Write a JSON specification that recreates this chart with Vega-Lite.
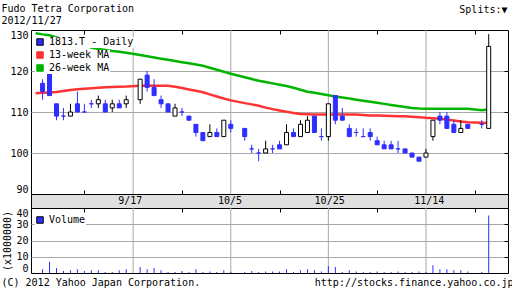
{
 "$schema": "https://vega.github.io/schema/vega-lite/v6.json",
 "padding": {"left": 0, "top": 2, "right": 0, "bottom": 0},
 "background": "white",
 "config": {
  "view": {"stroke": "black", "strokeWidth": 1},
  "axis": {"labelFont": "DejaVu Sans Mono", "titleFont": "DejaVu Sans Mono", "labelFontSize": 10, "titleFontSize": 10, "titleFontWeight": "normal", "labelColor": "black", "titleColor": "black", "gridColor": "#a8a8a8", "gridOpacity": 1, "domain": false},
  "legend": {"labelFont": "DejaVu Sans Mono", "labelFontSize": 10, "labelColor": "black"}
 },
 "datasets": {
  "px": [
   {"i": -1, "d": "8/28", "m13": 114.55, "m26": 129.2},
   {"i": 0, "d": "8/29", "o": 117, "h": 118, "l": 113, "c": 115, "v": 2.3, "m13": 114.68, "m26": 128.93},
   {"i": 1, "d": "8/30", "o": 120, "h": 122, "l": 114, "c": 114, "v": 6.9, "m13": 114.77, "m26": 128.7},
   {"i": 2, "d": "8/31", "o": 112, "h": 112, "l": 108, "c": 109, "v": 3.1, "m13": 114.87, "m26": 128.2},
   {"i": 3, "d": "9/3", "o": 109, "h": 111, "l": 108, "c": 109, "v": 1.25, "m13": 115.12, "m26": 127.7},
   {"i": 4, "d": "9/4", "o": 109, "h": 112, "l": 109, "c": 110, "v": 1.7, "m13": 115.36, "m26": 127.2},
   {"i": 5, "d": "9/5", "o": 112, "h": 115, "l": 110, "c": 110, "v": 2.3, "m13": 115.52, "m26": 126.7},
   {"i": 6, "d": "9/6", "o": 110, "h": 112, "l": 110, "c": 110, "v": 1.25, "m13": 115.66, "m26": 126.2},
   {"i": 7, "d": "9/7", "o": 112, "h": 113, "l": 111, "c": 112, "v": 1.7, "m13": 115.8, "m26": 125.75},
   {"i": 8, "d": "9/10", "o": 112, "h": 114, "l": 111, "c": 113, "v": 1.7, "m13": 115.93, "m26": 125.38},
   {"i": 9, "d": "9/11", "o": 112, "h": 113, "l": 110, "c": 110, "v": 0.6, "m13": 116.06, "m26": 125.15},
   {"i": 10, "d": "9/12", "o": 111, "h": 113, "l": 110, "c": 112, "v": 0.6, "m13": 116.1, "m26": 124.9},
   {"i": 11, "d": "9/13", "o": 112, "h": 113, "l": 111, "c": 111, "v": 1.7, "m13": 116.15, "m26": 124.7},
   {"i": 12, "d": "9/14", "o": 112, "h": 114, "l": 111, "c": 113, "v": 2.3, "m13": 116.19, "m26": 124.45},
   {"i": 14, "d": "9/18", "o": 113, "h": 118, "l": 112, "c": 118, "v": 3.75, "m13": 116.39, "m26": 123.9},
   {"i": 15, "d": "9/19", "o": 119, "h": 120, "l": 115, "c": 116, "v": 2.3, "m13": 116.45, "m26": 123.6},
   {"i": 16, "d": "9/20", "o": 116, "h": 118, "l": 114, "c": 114, "v": 3.1, "m13": 116.43, "m26": 123.3},
   {"i": 17, "d": "9/21", "o": 113, "h": 114, "l": 111, "c": 112, "v": 1.7, "m13": 116.41, "m26": 123.0},
   {"i": 18, "d": "9/24", "o": 112, "h": 112, "l": 110, "c": 110, "v": 0.6, "m13": 116.39, "m26": 122.73},
   {"i": 19, "d": "9/25", "o": 109, "h": 112, "l": 109, "c": 111, "v": 0.6, "m13": 116.17, "m26": 122.45},
   {"i": 20, "d": "9/26", "o": 110, "h": 111, "l": 109, "c": 110, "v": 1.25, "m13": 115.85, "m26": 122.15},
   {"i": 21, "d": "9/27", "o": 109, "h": 109, "l": 108, "c": 108, "v": 0.6, "m13": 115.51, "m26": 121.87},
   {"i": 22, "d": "9/28", "o": 107, "h": 107, "l": 104, "c": 105, "v": 2.3, "m13": 115.16, "m26": 121.58},
   {"i": 23, "d": "10/1", "o": 105, "h": 105, "l": 103, "c": 103, "v": 0.6, "m13": 114.8, "m26": 121.28},
   {"i": 24, "d": "10/2", "o": 104, "h": 107, "l": 104, "c": 105, "v": 1, "m13": 114.29, "m26": 120.8},
   {"i": 25, "d": "10/3", "o": 105, "h": 106, "l": 104, "c": 104, "v": 0.6, "m13": 113.77, "m26": 120.3},
   {"i": 26, "d": "10/4", "o": 104, "h": 108, "l": 104, "c": 108, "v": 1.7, "m13": 113.28, "m26": 119.8},
   {"i": 27, "d": "10/5", "o": 107, "h": 108, "l": 105, "c": 106, "v": 0.8, "m13": 112.84, "m26": 119.33},
   {"i": 29, "d": "10/9", "o": 106, "h": 106, "l": 103, "c": 104, "v": 0.6, "m13": 112.16, "m26": 118.46},
   {"i": 30, "d": "10/10", "o": 101, "h": 102, "l": 100, "c": 101, "v": 1.25, "m13": 111.86, "m26": 118.03},
   {"i": 31, "d": "10/11", "o": 100, "h": 101, "l": 98, "c": 100, "v": 0.6, "m13": 111.53, "m26": 117.62},
   {"i": 32, "d": "10/12", "o": 100, "h": 103, "l": 100, "c": 101, "v": 1, "m13": 111.07, "m26": 117.3},
   {"i": 33, "d": "10/15", "o": 101, "h": 102, "l": 100, "c": 101, "v": 1, "m13": 110.7, "m26": 116.98},
   {"i": 34, "d": "10/16", "o": 102, "h": 103, "l": 101, "c": 101, "v": 1, "m13": 110.37, "m26": 116.67},
   {"i": 35, "d": "10/17", "o": 102, "h": 107, "l": 102, "c": 105, "v": 2.3, "m13": 110.05, "m26": 116.36},
   {"i": 36, "d": "10/18", "o": 105, "h": 106, "l": 104, "c": 104, "v": 0.6, "m13": 109.76, "m26": 115.93},
   {"i": 37, "d": "10/19", "o": 104, "h": 108, "l": 104, "c": 107, "v": 1.7, "m13": 109.52, "m26": 115.43},
   {"i": 38, "d": "10/22", "o": 105, "h": 109, "l": 105, "c": 108, "v": 2.3, "m13": 109.47, "m26": 114.96},
   {"i": 39, "d": "10/23", "o": 109, "h": 109, "l": 105, "c": 105, "v": 1.7, "m13": 109.42, "m26": 114.67},
   {"i": 40, "d": "10/24", "o": 104, "h": 106, "l": 103, "c": 104, "v": 1, "m13": 109.38, "m26": 114.38},
   {"i": 41, "d": "10/25", "o": 104, "h": 112, "l": 103, "c": 112, "v": 4.2, "m13": 109.37, "m26": 114.1},
   {"i": 42, "d": "10/26", "o": 114, "h": 114, "l": 107, "c": 108, "v": 3.75, "m13": 109.37, "m26": 113.8},
   {"i": 43, "d": "10/29", "o": 109, "h": 111, "l": 108, "c": 108, "v": 0.6, "m13": 109.37, "m26": 113.54},
   {"i": 44, "d": "10/30", "o": 106, "h": 107, "l": 104, "c": 104, "v": 1.7, "m13": 109.37, "m26": 113.28},
   {"i": 45, "d": "10/31", "o": 105, "h": 106, "l": 104, "c": 105, "v": 1, "m13": 109.36, "m26": 113.01},
   {"i": 46, "d": "11/1", "o": 104, "h": 106, "l": 104, "c": 104, "v": 0.6, "m13": 109.25, "m26": 112.75},
   {"i": 47, "d": "11/2", "o": 105, "h": 106, "l": 103, "c": 104, "v": 0.6, "m13": 109.17, "m26": 112.48},
   {"i": 48, "d": "11/5", "o": 103, "h": 104, "l": 102, "c": 102, "v": 1, "m13": 109.12, "m26": 112.23},
   {"i": 49, "d": "11/6", "o": 102, "h": 103, "l": 101, "c": 101, "v": 0.6, "m13": 109.07, "m26": 111.98},
   {"i": 50, "d": "11/7", "o": 102, "h": 103, "l": 101, "c": 101, "v": 0.6, "m13": 109.03, "m26": 111.73},
   {"i": 51, "d": "11/8", "o": 101, "h": 103, "l": 100, "c": 101, "v": 1, "m13": 108.99, "m26": 111.48},
   {"i": 52, "d": "11/9", "o": 101, "h": 101, "l": 100, "c": 100, "v": 0.6, "m13": 108.94, "m26": 111.24},
   {"i": 53, "d": "11/12", "o": 100, "h": 100, "l": 99, "c": 99, "v": 0.6, "m13": 108.85, "m26": 110.99},
   {"i": 54, "d": "11/13", "o": 99, "h": 99, "l": 98, "c": 98, "v": 1, "m13": 108.74, "m26": 110.85},
   {"i": 55, "d": "11/14", "o": 99, "h": 101, "l": 99, "c": 100, "v": 0.6, "m13": 108.6, "m26": 110.82},
   {"i": 56, "d": "11/15", "o": 104, "h": 108, "l": 103, "c": 108, "v": 4.8, "m13": 108.5, "m26": 110.82},
   {"i": 57, "d": "11/16", "o": 109, "h": 110, "l": 107, "c": 108, "v": 2.3, "m13": 108.35, "m26": 110.82},
   {"i": 58, "d": "11/19", "o": 109, "h": 110, "l": 106, "c": 106, "v": 2.3, "m13": 108.15, "m26": 110.82},
   {"i": 59, "d": "11/20", "o": 107, "h": 108, "l": 105, "c": 105, "v": 1.7, "m13": 107.95, "m26": 110.82},
   {"i": 60, "d": "11/21", "o": 105, "h": 108, "l": 105, "c": 106, "v": 1.7, "m13": 107.7, "m26": 110.82},
   {"i": 61, "d": "11/22", "o": 107, "h": 107, "l": 106, "c": 106, "v": 1, "m13": 107.5, "m26": 110.8},
   {"i": 63, "d": "11/26", "o": 107, "h": 108, "l": 106, "c": 107, "v": 0.6, "m13": 107.35, "m26": 110.41},
   {"i": 64, "d": "11/27", "o": 106, "h": 129, "l": 106, "c": 126, "v": 35.4, "m13": 107.3, "m26": 110.6}
  ],
  "grid": [
   {"i": 13, "label": "9/17"},
   {"i": 27, "label": "10/5"},
   {"i": 41, "label": "10/25"},
   {"i": 55, "label": "11/14"}
  ]
 },
 "vconcat": [
  {
   "width": 477,
   "height": 164,
   "layer": [
    {
     "data": {"name": "grid"},
     "mark": {"type": "rule", "color": "#a8a8a8", "strokeWidth": 1},
     "encoding": {
      "x": {"field": "i", "type": "quantitative", "scale": {"domain": [-0.94, 66.05], "nice": false, "zero": false},
            "axis": {"orient": "bottom", "values": [6, 20, 34, 48, 62], "labels": false, "grid": false, "ticks": true, "tickSize": -4, "tickColor": "black", "title": null}}
     }
    },
    {
     "data": {"name": "px"},
     "mark": {"type": "line", "color": "#ff3333", "strokeWidth": 2.5, "clip": true},
     "encoding": {
      "x": {"field": "i", "type": "quantitative", "axis": null},
      "y": {"field": "m13", "type": "quantitative", "scale": {"domain": [90, 130], "nice": false, "zero": false}, "axis": null},
      "color": {"datum": "13-week MA", "type": "nominal",
        "scale": {"domain": ["13-week MA", "26-week MA"], "range": ["#ff3333", "#00b400"]},
        "legend": {"orient": "none", "legendX": 4, "legendY": 20, "title": null, "symbolType": "square", "symbolSize": 42, "symbolStrokeColor": "black", "symbolStrokeWidth": 1, "rowPadding": 1, "padding": 0, "labelOffset": 4, "fillColor": "white",
          "encode": {"symbols": {"update": {"fill": {"scale": "color", "field": "value"}, "stroke": {"value": "black"}, "strokeWidth": {"value": 1}, "opacity": {"value": 1}}}}}}
     }
    },
    {
     "data": {"name": "px"},
     "mark": {"type": "line", "strokeWidth": 2.5, "clip": true},
     "encoding": {
      "x": {"field": "i", "type": "quantitative", "axis": null},
      "y": {"field": "m26", "type": "quantitative", "axis": null},
      "color": {"datum": "26-week MA", "type": "nominal"}
     }
    },
    {
     "data": {"name": "px"},
     "mark": {"type": "rule", "strokeWidth": 1},
     "encoding": {
      "x": {"field": "i", "type": "quantitative",
            "axis": {"orient": "top", "values": [6, 20, 34, 48, 62], "labels": false, "grid": false, "ticks": true, "tickSize": -4, "tickColor": "black", "title": null}},
      "y": {"field": "l", "type": "quantitative",
            "axis": {"orient": "left", "values": [90, 100, 110, 120, 130], "grid": false, "ticks": false, "tickSize": 0, "labelPadding": 3, "labelFlush": true,
                     "title": ["Fudo Tetra Corporation", "2012/11/27"], "titleAngle": 0, "titleAlign": "left", "titleBaseline": "alphabetic", "titleX": -30, "titleY": -19, "titleLineHeight": 12.5, "titleLimit": 400}},
      "y2": {"field": "h"},
      "stroke": {"condition": {"test": "datum.c > datum.o", "value": "black"}, "value": "#2e2eff"}
     }
    },
    {
     "data": {"name": "px"},
     "mark": {"type": "bar", "width": 4, "strokeWidth": 1, "orient": "vertical"},
     "encoding": {
      "x": {"field": "i", "type": "quantitative", "axis": null},
      "y": {"field": "o", "type": "quantitative",
            "axis": {"orient": "right", "values": [100, 110, 120], "grid": true, "labels": false, "ticks": true, "tickSize": -4, "tickColor": "black",
                     "title": "Splits:▼", "titleAngle": 0, "titleAlign": "right", "titleBaseline": "alphabetic", "titleX": -1, "titleY": -18}},
      "y2": {"field": "c"},
      "fill": {"condition": {"test": "datum.c > datum.o", "value": "white"}, "value": "#2e2eff"},
      "stroke": {"condition": {"test": "datum.c > datum.o", "value": "black"}, "value": "#2e2eff"}
     }
    },
    {
     "data": {"name": "px"},
     "mark": {"type": "point", "shape": "square", "filled": true, "opacity": 0, "size": 1},
     "encoding": {
      "x": {"field": "i", "type": "quantitative", "axis": null},
      "y": {"field": "c", "type": "quantitative", "axis": null},
      "fill": {"datum": "1813.T - Daily", "type": "nominal", "scale": {"range": ["#2e2eff"]},
        "legend": {"orient": "none", "legendX": 4, "legendY": 7, "title": null, "symbolType": "square", "symbolSize": 42, "symbolStrokeColor": "black", "symbolStrokeWidth": 1, "padding": 0, "labelOffset": 4, "fillColor": "white",
          "encode": {"symbols": {"update": {"opacity": {"value": 1}, "stroke": {"value": "black"}, "strokeWidth": {"value": 1}}}}}}
     }
    }
   ],
   "resolve": {"axis": {"x": "independent", "y": "independent"}}
  },
  {
   "width": 477,
   "height": 14,
   "view": {"fill": "#e0e0e0", "stroke": "black"},
   "data": {"name": "grid"},
   "mark": {"type": "text", "font": "DejaVu Sans Mono", "fontSize": 10, "color": "black", "baseline": "middle"},
   "encoding": {
    "x": {"field": "i", "type": "quantitative", "scale": {"domain": [-0.94, 66.05], "nice": false, "zero": false}, "axis": null},
    "text": {"field": "label"}
   }
  },
  {
   "width": 477,
   "height": 65,
   "layer": [
    {
     "data": {"name": "grid"},
     "mark": {"type": "rule", "color": "#a8a8a8", "strokeWidth": 1},
     "encoding": {
      "x": {"field": "i", "type": "quantitative", "scale": {"domain": [-0.94, 66.05], "nice": false, "zero": false},
            "axis": {"orient": "top", "values": [6, 20, 34, 48, 62], "labels": false, "grid": false, "ticks": true, "tickSize": -4, "tickColor": "black", "title": null}}
     }
    },
    {
     "data": {"name": "px"},
     "mark": {"type": "bar", "width": 1, "opacity": 0},
     "encoding": {
      "x": {"field": "i", "type": "quantitative", "axis": null},
      "y": {"field": "v", "type": "quantitative", "scale": {"domain": [0, 40], "nice": false},
            "axis": {"orient": "right", "values": [10, 20, 30], "grid": true, "labels": false, "ticks": true, "tickSize": -4, "tickColor": "black",
                     "title": "http://stocks.finance.yahoo.co.jp", "titleAngle": 0, "titleAlign": "right", "titleBaseline": "alphabetic", "titleX": 5, "titleY": 77, "titleLimit": 400}}
     }
    },
    {
     "data": {"name": "px"},
     "mark": {"type": "bar", "width": 1},
     "encoding": {
      "x": {"field": "i", "type": "quantitative",
            "axis": {"orient": "bottom", "labels": false, "ticks": false, "grid": false,
                     "title": "(C) 2012 Yahoo Japan Corporation.", "titleAlign": "left", "titleBaseline": "alphabetic", "titleX": -30, "titleY": 12, "titleLimit": 400}},
      "y": {"field": "v", "type": "quantitative",
            "axis": {"orient": "left", "values": [0, 10, 20, 30, 40], "grid": false, "ticks": false, "tickSize": 0, "labelPadding": 3, "labelFlush": true,
                     "title": "(x1000000)", "titlePadding": 3}},
      "fill": {"datum": "Volume", "type": "nominal", "scale": {"range": ["#2e2eff"]},
        "legend": {"orient": "none", "legendX": 4, "legendY": 7, "title": null, "symbolType": "square", "symbolSize": 42, "symbolStrokeColor": "black", "symbolStrokeWidth": 1, "padding": 0, "labelOffset": 4, "fillColor": "white"}}
     }
    }
   ],
   "resolve": {"axis": {"x": "independent", "y": "independent"}}
  }
 ],
 "spacing": 0,
 "bounds": "flush",
 "resolve": {"scale": {"fill": "independent"}, "legend": {"color": "independent", "fill": "independent"}}
}
